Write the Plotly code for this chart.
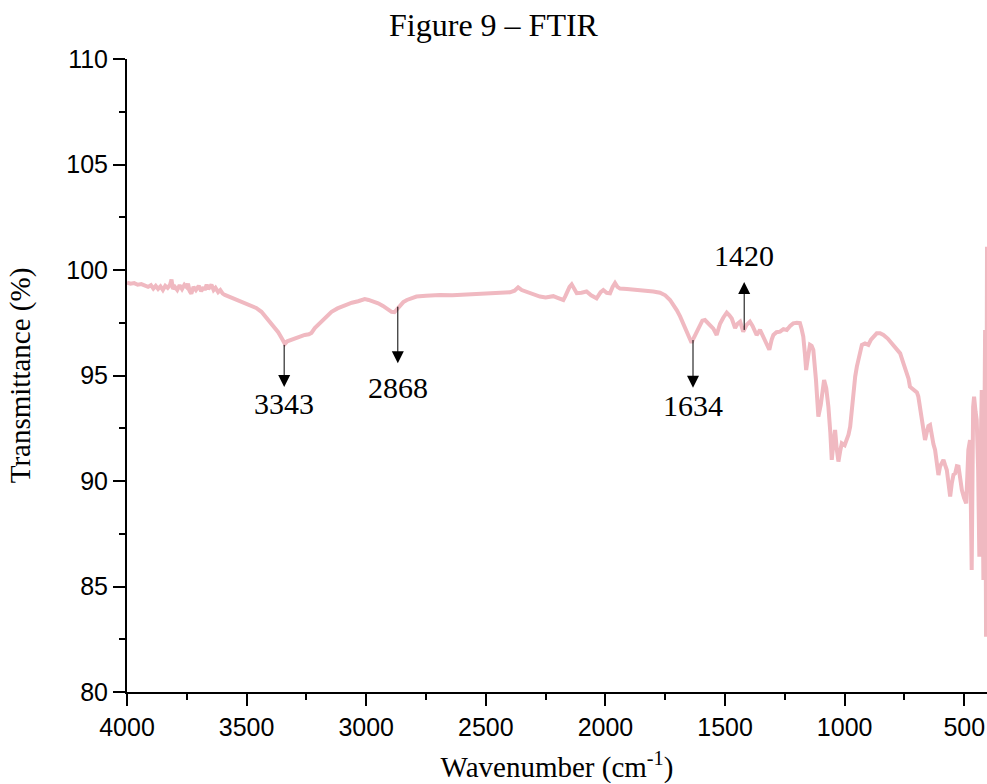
import plotly.graph_objects as go

# FTIR spectrum: wavenumber (cm^-1) and transmittance (%)
wavenumber = [
    4000, 3985, 3970, 3955, 3940, 3926, 3912, 3900, 3890, 3880, 3870, 3860, 3850, 3840,
    3830, 3820, 3814, 3808, 3800, 3790, 3780, 3770, 3760, 3750, 3745, 3738, 3731, 3722,
    3712, 3700, 3690, 3680, 3675, 3667, 3660, 3647, 3638, 3630, 3619, 3610, 3600, 3591,
    3575, 3560, 3545, 3536, 3520, 3500, 3480, 3460, 3438, 3420, 3396, 3380, 3368, 3355,
    3345, 3340, 3330, 3312, 3295, 3280, 3265, 3257, 3240, 3229, 3215, 3201, 3180, 3160,
    3145, 3120, 3090, 3060, 3034, 3006, 2990, 2970, 2950, 2930, 2910, 2894, 2882, 2870,
    2858, 2845, 2830, 2811, 2790, 2750, 2692, 2640, 2581, 2520, 2469, 2420, 2399, 2380,
    2365, 2350, 2330, 2300, 2274, 2250, 2218, 2200, 2176, 2168, 2162, 2150, 2141, 2130,
    2120, 2100, 2079, 2060, 2045, 2037, 2020, 2009, 1995, 1981, 1970, 1960, 1950, 1939,
    1910, 1884, 1850, 1828, 1800, 1772, 1750, 1730, 1715, 1702, 1688, 1675, 1660, 1648,
    1640, 1630, 1620, 1612, 1605, 1595, 1584, 1570, 1560, 1549, 1535, 1521, 1507, 1493,
    1482, 1472, 1458, 1448, 1437, 1430, 1424, 1410, 1396, 1385, 1368, 1360, 1354, 1345,
    1333, 1322, 1315, 1305, 1298, 1285, 1270, 1256, 1242, 1228, 1215, 1200, 1187, 1180,
    1173, 1166, 1161, 1153, 1145, 1138, 1131, 1120, 1110, 1100, 1092, 1086, 1077, 1068,
    1060, 1054, 1047, 1040, 1033, 1026, 1019, 1012, 1000, 991, 984, 977, 970, 963,
    956, 949, 940, 928, 915, 901, 890, 880, 866, 852, 838, 820, 808, 796,
    782, 768, 755, 740, 733, 727, 716, 705, 698, 692, 685, 678, 671, 664,
    657, 650, 643, 636, 629, 622, 615, 608, 601, 594, 587, 580, 573, 566,
    559, 552, 545, 538, 531, 524, 517, 510, 501, 492, 487, 483, 476, 469,
    463, 459, 453, 448, 442, 437, 432, 427, 420, 416, 413, 409, 405, 400,
]
transmittance = [
    99.40, 99.35, 99.38, 99.30, 99.33, 99.25, 99.20, 99.28, 99.12, 99.25, 99.10, 99.22, 99.05, 99.25,
    99.15, 99.30, 99.55, 99.10, 99.20, 99.05, 99.28, 99.10, 99.30, 99.18, 99.35, 99.00, 98.88, 99.20,
    99.05, 99.25, 99.00, 99.18, 99.05, 99.30, 99.10, 99.30, 99.05, 99.15, 98.95, 99.05, 98.88, 98.82,
    98.75, 98.68, 98.62, 98.56, 98.50, 98.42, 98.32, 98.20, 98.02, 97.78, 97.45, 97.25, 97.05, 96.80,
    96.55, 96.50, 96.62, 96.70, 96.78, 96.80, 96.88, 96.92, 96.95, 97.02, 97.25, 97.40, 97.62, 97.85,
    98.02, 98.18, 98.34, 98.45, 98.52, 98.62, 98.58, 98.52, 98.42, 98.30, 98.15, 98.02, 98.00, 98.15,
    98.30, 98.48, 98.58, 98.66, 98.74, 98.78, 98.82, 98.80, 98.84, 98.88, 98.92, 98.93, 98.94, 99.02,
    99.18, 99.05, 98.96, 98.82, 98.74, 98.70, 98.76, 98.68, 98.58, 98.75, 98.92, 99.20, 99.32, 99.05,
    98.90, 98.92, 98.98, 98.80, 98.72, 98.66, 98.95, 99.05, 98.92, 98.90, 99.20, 99.38, 99.20, 99.12,
    99.10, 99.08, 99.05, 99.02, 98.98, 98.92, 98.80, 98.58, 98.35, 98.10, 97.80, 97.45, 97.00, 96.65,
    96.55, 96.80, 97.05, 97.25, 97.45, 97.60, 97.63, 97.45, 97.30, 97.22, 96.92, 97.45, 97.75, 97.98,
    97.85, 97.70, 97.25, 97.45, 97.55, 97.30, 97.08, 97.40, 97.55, 97.35, 96.92, 97.05, 97.16, 96.95,
    96.62, 96.40, 96.22, 96.70, 96.92, 97.05, 97.08, 97.20, 97.16, 97.35, 97.47, 97.50, 97.48, 97.20,
    96.84, 96.00, 95.26, 95.90, 96.45, 96.40, 96.21, 94.80, 93.05, 93.60, 94.50, 94.79, 94.40, 93.52,
    92.30, 91.00, 91.80, 92.42, 91.50, 90.92, 91.40, 91.79, 91.70, 91.94, 92.20, 92.57, 93.40, 94.31,
    94.95, 95.42, 95.90, 96.45, 96.52, 96.45, 96.70, 96.85, 97.00, 97.00, 96.92, 96.75, 96.60, 96.45,
    96.28, 96.05, 95.60, 95.10, 94.85, 94.47, 94.38, 94.31, 94.20, 94.00, 93.55, 93.05, 92.45, 91.94,
    92.30, 92.60, 92.65, 92.10, 91.75, 91.47, 90.90, 90.28, 90.70, 90.90, 91.00, 90.75, 90.52, 89.90,
    89.26, 89.90, 90.30, 90.36, 90.70, 90.68, 90.10, 89.57, 89.20, 88.94, 90.30, 91.47, 91.94, 85.78,
    93.50, 94.00, 93.30, 92.89, 90.50, 86.41, 91.00, 94.31, 85.31, 91.00, 97.16, 82.62, 101.10, 100.50,
]

# Labelled absorption bands: wavenumber, where the arrow leaves the curve,
# where the label sits, and the gap (px) between label box and arrowhead
peak_wavenumbers = [3343, 2868, 1634, 1420]
arrow_from = [96.45, 98.26, 96.68, 97.16]
label_y = [93.65, 94.44, 93.57, 100.71]
head_gap = [0, 7, 1, 10]

x_ticks = [4000, 3500, 3000, 2500, 2000, 1500, 1000, 500]
y_ticks = [80, 85, 90, 95, 100, 105, 110]

SERIF = "Times New Roman, Liberation Serif, serif"
SANS = "Arial, Liberation Sans, sans-serif"

fig = go.Figure()
fig.add_trace(go.Scatter(
    x=wavenumber, y=transmittance, mode="lines",
    line=dict(color="#F0B9C1", width=4),
    showlegend=False, hoverinfo="skip",
))

# Each label carries its own arrow, drawn from the curve with the head at the label
for wn, y0, ly, gap in zip(peak_wavenumbers, arrow_from, label_y, head_gap):
    fig.add_annotation(
        x=wn, y=y0, ax=wn, ay=ly, xref="x", yref="y", axref="x", ayref="y",
        text=str(wn), showarrow=True, arrowside="start",
        startarrowhead=2, startarrowsize=2.4, arrowwidth=1, arrowcolor="black",
        standoff=0, startstandoff=gap, borderpad=0,
        font=dict(family=SERIF, size=30, color="black"),
    )

axis_common = dict(
    showline=True, linewidth=2, linecolor="black", mirror=False,
    showgrid=False, zeroline=False,
    ticks="outside", ticklen=12, tickwidth=2, tickcolor="black",
    tickfont=dict(family=SANS, size=25, color="black"),
)

fig.update_xaxes(
    **axis_common,
    range=[4000, 405], tickvals=x_ticks, ticktext=[str(v) for v in x_ticks],
    minor=dict(ticks="outside", ticklen=6, tickwidth=2, tickcolor="black",
               tickvals=[3750, 3250, 2750, 2250, 1750, 1250, 750]),
    title=dict(text="Wavenumber (cm<sup>-1</sup>)",
               font=dict(family=SERIF, size=29, color="black"), standoff=19),
)
fig.update_yaxes(
    **axis_common,
    range=[80, 110], tickvals=y_ticks, ticktext=[str(v) for v in y_ticks],
    minor=dict(ticks="outside", ticklen=6, tickwidth=2, tickcolor="black",
               tickvals=[82.5, 87.5, 92.5, 97.5, 102.5, 107.5]),
    title=dict(text="Transmittance (%)",
               font=dict(family=SERIF, size=29, color="black"), standoff=27),
)

fig.update_layout(
    width=987, height=784,
    margin=dict(l=127, r=0, t=59, b=92),
    paper_bgcolor="white", plot_bgcolor="white",
    title=dict(text="Figure 9 – FTIR", x=0.5, xref="container", xanchor="center",
               y=0.968, yref="container", yanchor="middle",
               font=dict(family=SERIF, size=32, color="black")),
)

fig.write_html("out.html")
